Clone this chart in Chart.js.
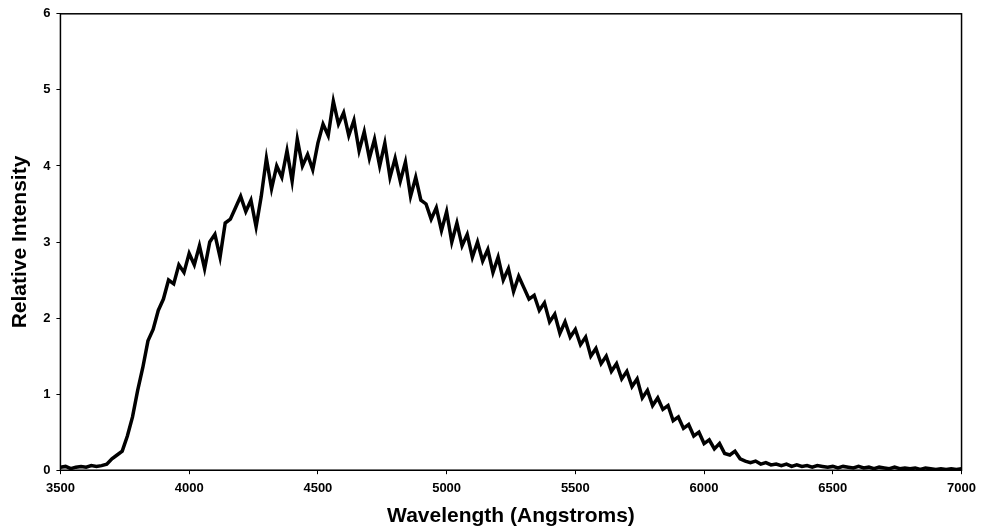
<!DOCTYPE html>
<html>
<head>
<script src="https://cdn.jsdelivr.net/npm/chart.js@4"></script>
<style>
  body { margin: 0; background: #fff; }
  #wrap { width: 982px; height: 531px; }
</style>
</head>
<body>
<div id="wrap"><canvas id="spec"></canvas></div>
<script>
const startWavelength = 3500;
const stepWavelength = 20;
// relative intensity every 20 Angstroms
const intensity = [
  0.04, 0.05, 0.02, 0.04, 0.05, 0.04, 0.06, 0.05, 0.06, 0.08,
  0.15, 0.2, 0.25, 0.45, 0.7, 1.05, 1.35, 1.7, 1.85, 2.1,
  2.25, 2.5, 2.45, 2.7, 2.6, 2.85, 2.7, 2.95, 2.65, 3.0,
  3.1, 2.8, 3.25, 3.3, 3.45, 3.6, 3.4, 3.55, 3.2, 3.6,
  4.1, 3.7, 4.0, 3.85, 4.2, 3.8, 4.35, 4.0, 4.15, 3.95,
  4.3, 4.55, 4.4, 4.85, 4.55, 4.7, 4.4, 4.6, 4.2, 4.45,
  4.1, 4.35, 4.0, 4.3, 3.85, 4.1, 3.8, 4.05, 3.6, 3.85,
  3.55, 3.5, 3.3, 3.45, 3.15, 3.4, 3.0, 3.25, 2.95, 3.1,
  2.8, 3.0, 2.75, 2.9, 2.6, 2.8, 2.5, 2.65, 2.35, 2.55,
  2.4, 2.25, 2.3, 2.1, 2.2, 1.95, 2.05, 1.8, 1.95, 1.75,
  1.85, 1.65, 1.75, 1.5, 1.6, 1.4, 1.5, 1.3, 1.4, 1.2,
  1.3, 1.1, 1.2, 0.95, 1.05, 0.85, 0.95, 0.8, 0.85, 0.65,
  0.7, 0.55, 0.6, 0.45, 0.5, 0.35, 0.4, 0.28, 0.35, 0.22,
  0.2, 0.25, 0.15, 0.12, 0.1, 0.12, 0.08, 0.1, 0.07, 0.08,
  0.06, 0.08, 0.05, 0.07, 0.05, 0.06, 0.04, 0.06, 0.05, 0.04,
  0.05, 0.03, 0.05, 0.04, 0.03, 0.05, 0.03, 0.04, 0.02, 0.04,
  0.03, 0.02, 0.04, 0.02, 0.03, 0.02, 0.03, 0.01, 0.03, 0.02,
  0.01, 0.02, 0.01, 0.02, 0.01, 0.02
];
const xTicks = [3500, 4000, 4500, 5000, 5500, 6000, 6500, 7000];
const yTicks = [0, 1, 2, 3, 4, 5, 6];

const points = intensity.map((v, i) => ({ x: startWavelength + i * stepWavelength, y: v }));

// draws the box round the plot area
const frame = {
  id: "frame",
  afterDraw(chart) {
    const a = chart.chartArea;
    const c = chart.ctx;
    c.save();
    c.strokeStyle = "#000";
    c.lineWidth = 1.5;
    c.strokeRect(a.left, a.top, a.right - a.left, a.bottom - a.top);
    c.restore();
  },
};

const font = { family: "Liberation Sans", weight: "bold", size: 13 };
const titleFont = { family: "Liberation Sans", weight: "bold", size: 21 };
const ctx = document.getElementById("spec").getContext("2d");
new Chart(ctx, {
  type: "line",
  data: {
    datasets: [
      {
        data: points,
        borderColor: "#000",
        borderWidth: 3.5,
        pointRadius: 0,
        tension: 0,
        fill: false,
      },
    ],
  },
  options: {
    responsive: true,
    maintainAspectRatio: false,
    animation: false,
    layout: { padding: { top: 13, right: 20, left: 4, bottom: 0 } },
    plugins: { legend: { display: false }, tooltip: { enabled: false } },
    scales: {
      x: {
        type: "linear",
        min: 3500,
        max: 7000,
        afterBuildTicks: (s) => { s.ticks = xTicks.map((v) => ({ value: v })); },
        grid: { display: true, drawOnChartArea: false, tickLength: 4, color: "#000" },
        border: { color: "#000" },
        ticks: { color: "#000", font: font, maxRotation: 0, padding: 6, callback: (v) => String(v) },
        title: { display: true, text: "Wavelength (Angstroms)", color: "#000",
                 font: titleFont, padding: { top: 2, bottom: 2 } },
      },
      y: {
        min: 0,
        max: 6,
        afterBuildTicks: (s) => { s.ticks = yTicks.map((v) => ({ value: v })); },
        grid: { display: true, drawOnChartArea: false, tickLength: 4, color: "#000" },
        border: { color: "#000" },
        ticks: { color: "#000", font: font, padding: 6 },
        title: { display: true, text: "Relative Intensity", color: "#000",
                 font: titleFont, padding: { bottom: 4 } },
      },
    },
  },
  plugins: [frame],
});
</script>
</body>
</html>
